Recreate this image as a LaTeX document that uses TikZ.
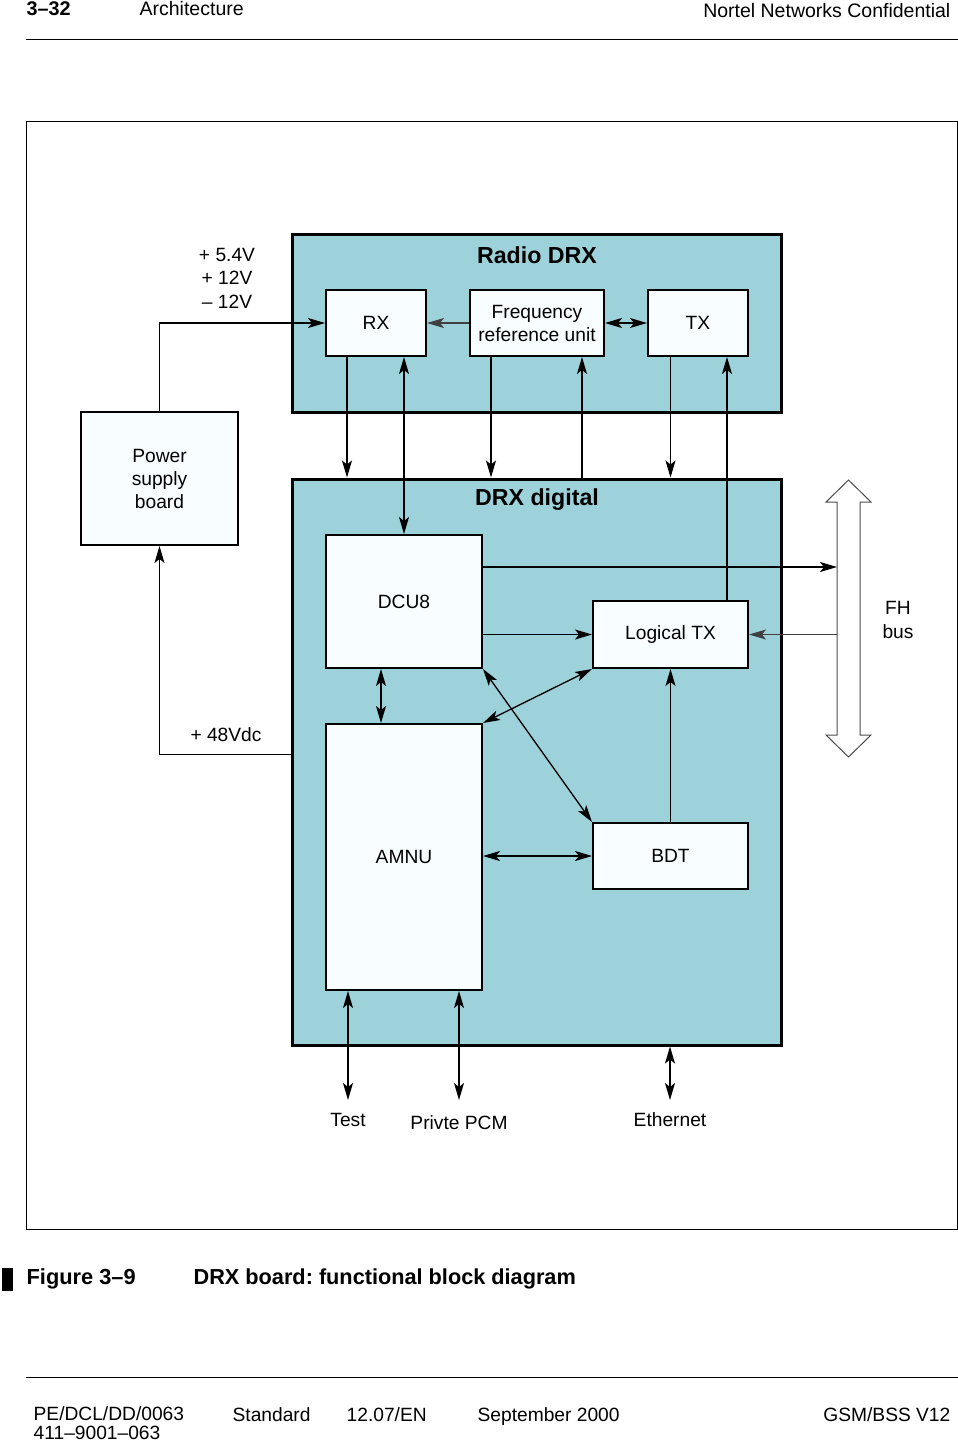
\documentclass[tikz,border=0pt]{standalone}
\usepackage{fontspec}
\setmainfont{Liberation Sans}
\usepackage{tikz}
\usetikzlibrary{arrows.meta}
\definecolor{drxblue}{RGB}{157,210,219}
\definecolor{boxwhite}{RGB}{248,254,255}
\frenchspacing

\begin{document}
\begin{tikzpicture}[x=0.5pt, y=-0.5pt,
    >={Stealth[length=8.5pt,width=5pt,inset=2pt]},
    txt/.style={font=\fontsize{9.6}{11.5}\selectfont, align=center, inner sep=0pt},
    block/.style={draw, line width=1pt, fill=boxwhite, inner sep=0pt,
      font=\fontsize{9.6}{11.5}\selectfont, align=center},
    board/.style={draw, line width=1.5pt, fill=drxblue, inner sep=0pt},
    title/.style={font=\fontsize{11.6}{14}\selectfont\bfseries, inner sep=0pt},
    endlbl/.style={txt, anchor=north, outer sep=6.5pt},
    foot/.style={anchor=base west, inner sep=0pt, font=\fontsize{9.6}{12}\selectfont},
    every path/.append style={line width=0.65pt}]
  \useasboundingbox (0,0) rectangle (958,1441);

  % page header
  \node[anchor=west, inner sep=0pt, font=\fontsize{9.9}{12}\selectfont\bfseries] (pageno) at (26,9) {3–32};
  \node[anchor=west, inner sep=0pt, font=\fontsize{9.75}{12}\selectfont] (chapter) at (139,9) {Architecture};
  \node[anchor=east, inner sep=0pt, font=\fontsize{9.75}{12}\selectfont] (conf) at (951,11) {Nortel Networks Confidential};
  \draw[line width=0.5pt] (26,39) -- (958,39);

  % frame
  \draw[line width=0.5pt] (26,121) rectangle (957,1229);

  % boards
  \node[board, minimum width=244.5pt, minimum height=89pt] (radio) at (536.5,323) {};
  \node[title] (radiotitle) at (537,255) {Radio DRX};
  \node[board, minimum width=244.5pt, minimum height=283pt] (digital) at (536.5,762) {};
  \node[title] (digitaltitle) at (537,500) {DRX digital};

  % blocks
  \node[block, minimum width=50pt, minimum height=33pt] (rx) at (376,323) {RX};
  \node[block, minimum width=67pt, minimum height=33pt] (fru) at (537,323) {Frequency\\reference unit};
  \node[block, minimum width=50pt, minimum height=33pt] (tx) at (698,323) {TX};
  \node[block, minimum width=78.5pt, minimum height=66.5pt] (psu) at (159.5,478.5) {Power\\supply\\board};
  \node[block, minimum width=78pt, minimum height=66.5pt] (dcu) at (404,601.5) {DCU8};
  \node[block, minimum width=77.5pt, minimum height=33.5pt] (ltx) at (670.5,634.5) {Logical TX};
  \node[block, minimum width=78pt, minimum height=133pt] (amnu) at (404,857) {AMNU};
  \node[block, minimum width=77.5pt, minimum height=33pt] (bdt) at (670.5,856) {BDT};

  % FH bus
  \draw[fill=white, draw=black!70, line width=0.5pt] (848.5,480) -- (871,502) -- (860,502) -- (860,735)
    -- (871,735) -- (848.5,757) -- (826,735) -- (837,735) -- (837,502) -- (826,502) -- cycle;
  \coordinate (bus) at (837,618);
  \node[txt, font=\fontsize{9.6}{12}\selectfont] (fhlbl) at (898,620) {FH\\bus};

  % labels
  \node[txt, font=\fontsize{9.6}{11.75}\selectfont] (volts) at (227,278) {+ 5.4V\\+ 12V\\– 12V};
  \node[txt] (vdc) at (226,735) {+ 48Vdc};
  \node[endlbl] (test) at (348,1100) {Test};
  \node[endlbl, outer sep=8pt] (pcm) at (459,1100) {Privte PCM};
  \node[endlbl] (eth) at (670,1100) {Ethernet};

  % radio DRX links
  \draw[->] (psu.north) |- (rx.west);
  \draw[->, draw=black!75] (fru.west) -- (rx.east);
  \draw[<->] (fru.east) -- (tx.west);
  \draw[->] ([xshift=11pt]rx.south west) coordinate (r1) -- (r1 |- digital.north);
  \draw[<->] (rx.south -| dcu.north) -- (dcu.north);
  \draw[->] ([xshift=11pt]fru.south west) coordinate (f1) -- (f1 |- digital.north);
  \coordinate (f2) at ([xshift=-11.5pt]fru.south east);
  \draw[->] (f2 |- digital.north) -- (f2);
  \draw[->] (tx.south -| ltx.north) -- (ltx.north |- digital.north);
  \coordinate (t2) at ([xshift=-11pt]tx.south east);
  \draw[->] (t2 |- ltx.north) -- (t2);

  % DRX digital links
  \coordinate (d1) at ([yshift=-16.5pt]dcu.north east);
  \draw[->] (d1) -- (d1 -| bus);
  \draw[->] (dcu.east |- ltx.west) -- (ltx.west);
  \draw[->, draw=black!75] (ltx.east -| bus) -- (ltx.east);
  \coordinate (d2) at ([xshift=28pt]dcu.south west);
  \draw[<->] (d2) -- (d2 |- amnu.north);
  \draw[<->] (dcu.south east) -- (bdt.north west);
  \draw[<->] (amnu.north east) -- (ltx.south west);
  \draw[<->] (amnu.east |- bdt.west) -- (bdt.west);
  \draw[->] (bdt.north) -- (ltx.south);

  % 48V feed
  \coordinate (p1) at ([yshift=-138.5pt]digital.north west);
  \draw[->] (p1) -| (psu.south);

  % external links
  \draw[<->] (amnu.south -| test.north) -- (test.north);
  \draw[<->] (amnu.south -| pcm.north) -- (pcm.north);
  \draw[<->] (digital.south -| eth.north) -- (eth.north);

  % caption
  \fill (2,1268) rectangle (13,1291);
  \node[anchor=base west, inner sep=0pt, font=\fontsize{10.9}{13}\selectfont\bfseries] (fig) at (26,1284) {Figure 3–9};
  \node[anchor=base west, inner sep=0pt, font=\fontsize{10.85}{13}\selectfont\bfseries] (caption) at (193,1284) {DRX board: functional block diagram};

  % page footer
  \draw[line width=0.5pt] (26,1377) -- (958,1377);
  \node[anchor=west, inner sep=0pt, align=left, font=\fontsize{9.6}{9.5}\selectfont] (docno) at (33,1423) {PE/DCL/DD/0063\\411–9001–063};
  \node[foot] (std) at (232,1421) {Standard};
  \node[foot] (issue) at (346,1421) {12.07/EN};
  \node[foot] (date) at (477,1421) {September 2000};
  \node[foot, anchor=base east] (rel) at (951,1421) {GSM/BSS V12};
\end{tikzpicture}
\end{document}
